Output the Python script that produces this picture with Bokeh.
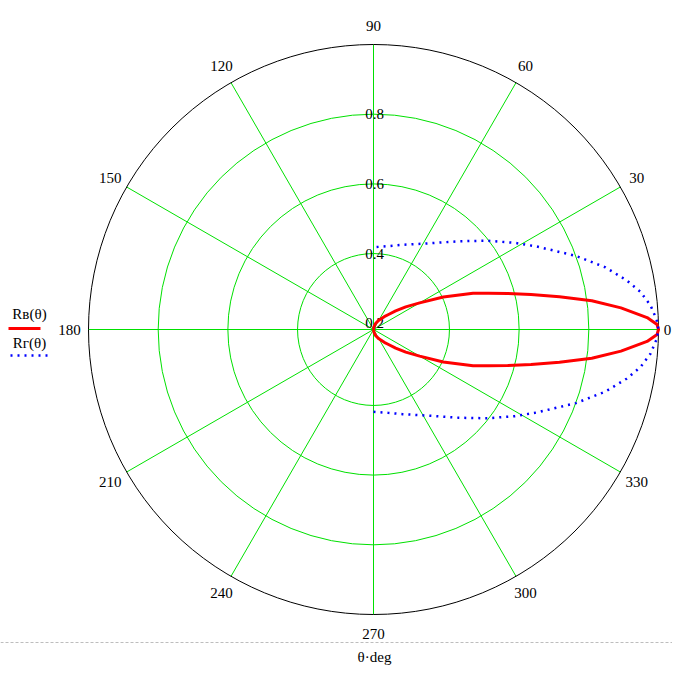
import numpy as np
from bokeh.plotting import figure
from bokeh.models import Range1d
from bokeh.core.properties import value
from bokeh.embed import file_html
from bokeh.resources import INLINE

# ---------------- data ----------------
theta_B = [-90, -80, -70, -60, -50, -45, -40, -35, -30, -25, -20, -17.5, -15, -12.5, -10, -7.5, -5, -2.5, -1,
           0, 1, 2.5, 5, 7.5, 10, 12.5, 15, 17.5, 20, 25, 30, 35, 40, 45, 50, 60, 70, 80, 90]
R_B = [0.182, 0.190, 0.201, 0.213, 0.230, 0.243, 0.265, 0.295, 0.335, 0.403, 0.486, 0.528, 0.581, 0.645,
       0.724, 0.814, 0.895, 0.968, 0.996,
       1.000, 0.996, 0.968, 0.895, 0.814, 0.724, 0.645, 0.581, 0.528, 0.486, 0.403, 0.335, 0.295, 0.265,
       0.243, 0.230, 0.213, 0.201, 0.190, 0.182]

theta_G = [-90, -80, -71, -56, -46, -38, -31.5, -27, -20, -15, -11, -8, -5, -2,
           0, 2, 5, 8, 11, 15, 20, 27, 31.5, 38, 46, 56, 71, 80, 90]
R_G = [0.418, 0.425, 0.439, 0.481, 0.534, 0.596, 0.658, 0.707, 0.800, 0.871, 0.922, 0.956, 0.980, 0.995,
       1.000, 0.995, 0.980, 0.956, 0.922, 0.871, 0.800, 0.707, 0.658, 0.596, 0.534, 0.481, 0.439, 0.425, 0.418]

angle_ticks = [0, 30, 60, 90, 120, 150, 180, 210, 240, 270, 300, 330]
radial_labels = [0.2, 0.4, 0.6, 0.8]
ring_values = [0.4, 0.6, 0.8]
r_min = 0.182
r_max = 1.0
legend_labels = ["R\u0432(\u03b8)", "R\u0433(\u03b8)"]
x_title = "\u03b8\u00b7deg"

# ---------------- layout ----------------
W, H = 672, 668
CX, CY = 373, 329            # centre of the polar plot in figure pixels (from top-left)
R_PX = 285                   # outer radius in pixels
S = R_PX / (r_max - r_min)   # pixels per radial unit

FONT = value("Liberation Serif")
FS = value("15px")
GREEN = "#00e000"


def px(xp, yp):
    return (xp - CX) / S, (CY - yp) / S


def polar(theta_deg, r):
    t = np.radians(np.asarray(theta_deg, dtype=float))
    rr = np.asarray(r, dtype=float) - r_min
    return rr * np.cos(t), rr * np.sin(t)


p = figure(width=W, height=H, output_backend="svg", toolbar_location=None,
           x_range=Range1d(-CX / S, (W - CX) / S), y_range=Range1d(-(H - CY) / S, CY / S),
           min_border=0, min_border_left=0, min_border_right=0, min_border_top=0, min_border_bottom=0)
p.axis.visible = False
p.grid.visible = False
p.outline_line_color = None
p.background_fill_color = "white"
p.border_fill_color = "white"

R0 = r_max - r_min

# spokes
half = [a for a in angle_ticks if a < 180]
ta = np.radians(half)
p.segment(x0=-R0 * np.cos(ta), y0=-R0 * np.sin(ta), x1=R0 * np.cos(ta), y1=R0 * np.sin(ta),
          line_color=GREEN, line_width=1)
# rings
p.circle(x=[0] * len(ring_values), y=[0] * len(ring_values),
         radius=[v - r_min for v in ring_values], fill_color=None, line_color=GREEN, line_width=1)
# outer circle
p.circle(x=[0], y=[0], radius=[R0], fill_color=None, line_color="black", line_width=1)

# angle labels
lab_r = 304 / S
tt = np.radians(angle_ticks)
lx_all = lab_r * np.cos(tt)
lx_all = np.minimum(lx_all, (W - 5 - CX) / S)   # keep the "0" label inside the canvas
p.text(x=lx_all, y=lab_r * np.sin(tt), text=[str(a) for a in angle_ticks],
       text_font=FONT, text_font_size=FS, text_align="center", text_baseline="middle", text_color="black")

# radial labels
p.text(x=[0] * len(radial_labels), y=[v - r_min for v in radial_labels],
       text=[f"{v:g}" for v in radial_labels], x_offset=1,
       text_font=FONT, text_font_size=FS, text_align="center", text_baseline="middle", text_color="black")

# curves
xb, yb = polar(theta_B, R_B)
p.line(xb, yb, line_color="#ff0000", line_width=3, line_join="round")
xg, yg = polar(theta_G, R_G)
p.line(xg, yg, line_color="#0000ff", line_width=2.5, line_dash="2 5")

# legend
lx, ly = px(29, 313)
p.text(x=[lx], y=[ly], text=[legend_labels[0]], text_font=FONT, text_font_size=FS,
       text_align="center", text_baseline="middle", text_color="black")
a0, b0 = px(8, 328)
a1, b1 = px(40, 328)
p.line([a0, a1], [b0, b1], line_color="#ff0000", line_width=3)
lx2, ly2 = px(29, 342)
p.text(x=[lx2], y=[ly2], text=[legend_labels[1]], text_font=FONT, text_font_size=FS,
       text_align="center", text_baseline="middle", text_color="black")
a0, b0 = px(10, 355)
a1, b1 = px(48, 355)
p.line([a0, a1], [b0, b1], line_color="#0000ff", line_width=2.5, line_dash="2 5")

# bottom dashed separator and axis title
a0, b0 = px(0, 642)
a1, b1 = px(W, 642)
p.line([a0, a1], [b0, b1], line_color="#bdbdbd", line_width=1, line_dash="3 2")
tx, ty = px(374, 656)
p.text(x=[tx], y=[ty], text=[x_title], text_font=FONT, text_font_size=FS,
       text_align="center", text_baseline="middle", text_color="black")

open("out.html", "w").write(file_html(p, INLINE))
